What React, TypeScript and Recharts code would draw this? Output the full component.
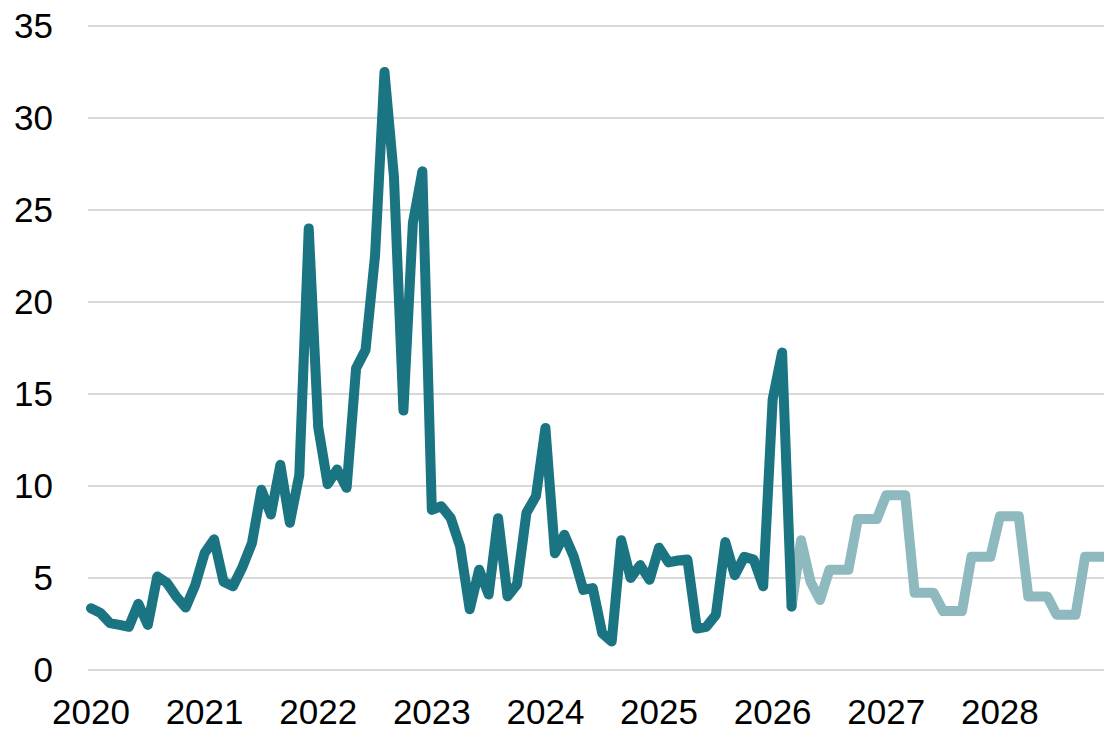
import React from 'react';
import { LineChart, Line, XAxis, YAxis, CartesianGrid } from 'recharts';

// monthly values, Jan 2020 .. Mar 2026
const actual = [
  3.36, 3.1, 2.55, 2.45, 2.35, 3.6, 2.45, 5.08, 4.75, 4.0, 3.4, 4.6,
  6.35, 7.1, 4.8, 4.55, 5.6, 6.9, 9.8, 8.45, 11.15, 8.0, 10.6, 24.0,
  13.2, 10.1, 10.9, 9.9, 16.4, 17.4, 22.5, 32.5, 26.8, 14.1, 24.3, 27.1,
  8.7, 8.9, 8.25, 6.7, 3.3, 5.45, 4.1, 8.25, 4.0, 4.65, 8.55, 9.45,
  13.15, 6.35, 7.35, 6.15, 4.35, 4.45, 2.0, 1.55, 7.05, 5.0, 5.7, 4.9,
  6.65, 5.85, 5.95, 6.0, 2.25, 2.35, 3.0, 6.95, 5.15, 6.15, 6.0, 4.55,
  14.7, 17.25, 3.45,
];

// forecast, Mar 2026 .. Dec 2028
const forecastStart = 74;
const forecast = [
  3.45, 7.05, 4.8, 3.8, 5.45, 5.45, 5.45, 8.2, 8.2, 8.2, 9.5, 9.5,
  9.5, 4.2, 4.2, 4.2, 3.2, 3.2, 3.2, 6.15, 6.15, 6.15, 8.35, 8.35,
  8.35, 4.0, 4.0, 4.0, 3.0, 3.0, 3.0, 6.15, 6.15, 6.15,
];

const years = ['2020', '2021', '2022', '2023', '2024', '2025', '2026', '2027', '2028'];
const yTicks = [0, 5, 10, 15, 20, 25, 30, 35];

const total = forecastStart + forecast.length;
const data = Array.from({ length: total }, (_, i) => ({
  m: i,
  actual: i < actual.length ? actual[i] : null,
  forecast: i >= forecastStart ? forecast[i - forecastStart] : null,
}));

const xTicks = years.map((_, i) => i * 12);
const tickStyle = { fontFamily: '"Liberation Sans", Arial, sans-serif', fontSize: 35, fill: '#000' };

const App: React.FC = () => {
  return (
    <div style={{ position: 'absolute', left: 0, top: 0 }}>
      <LineChart width={1104} height={730} data={data} margin={{ top: 26, right: 0, bottom: 0, left: 0 }}>
        <CartesianGrid vertical={false} stroke="#d9d9d9" strokeWidth={2} />
        <XAxis
          dataKey="m"
          type="number"
          domain={[0, total - 1]}
          ticks={xTicks}
          tickFormatter={(v: number) => years[v / 12]}
          interval={0}
          padding={{ left: 3, right: 0 }}
          axisLine={false}
          tickLine={false}
          tickSize={0}
          tickMargin={29}
          height={60}
          tick={tickStyle}
        />
        <YAxis
          domain={[0, 35]}
          ticks={yTicks}
          interval={0}
          axisLine={false}
          tickLine={false}
          tickSize={0}
          tickMargin={35}
          width={88}
          tick={tickStyle}
        />
        <Line
          dataKey="forecast"
          stroke="#8db9bf"
          strokeWidth={10}
          strokeLinejoin="round"
          strokeLinecap="round"
          dot={false}
          activeDot={false}
          connectNulls={false}
          isAnimationActive={false}
        />
        <Line
          dataKey="actual"
          stroke="#1b7482"
          strokeWidth={10}
          strokeLinejoin="round"
          strokeLinecap="round"
          dot={false}
          activeDot={false}
          connectNulls={false}
          isAnimationActive={false}
        />
      </LineChart>
    </div>
  );
};

export default App;
